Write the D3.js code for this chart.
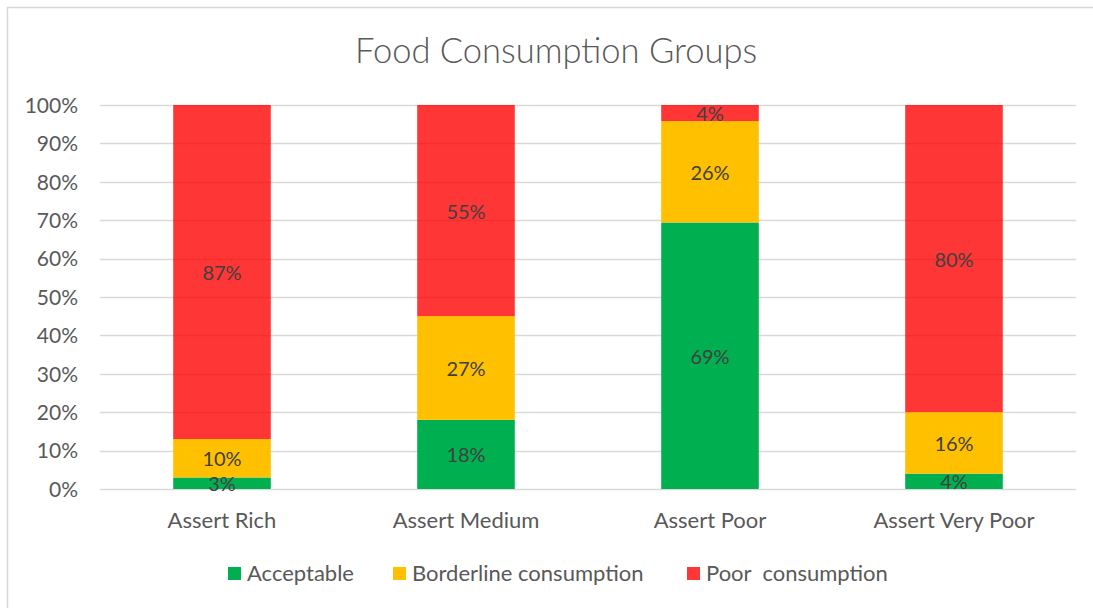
<!DOCTYPE html>
<html>
<head>
<meta charset="utf-8">
<script src="https://cdn.jsdelivr.net/npm/d3@7"></script>
<style>
  html, body { margin: 0; padding: 0; background: #fff; }
  svg text { font-family: Lato, "Open Sans", sans-serif; }
</style>
</head>
<body>
<svg id="chart" width="1093" height="608"></svg>
<script>
const categories = ["Assert Rich", "Assert Medium", "Assert Poor", "Assert Very Poor"];
const seriesNames = ["Acceptable", "Borderline consumption", "Poor  consumption"];
const acceptable = [3, 18, 69.4, 4];
const borderline = [10, 27, 26.4, 16];
const poor = [87, 55, 4.2, 80];
const tickValues = [0, 10, 20, 30, 40, 50, 60, 70, 80, 90, 100];
const colors = ["#00b050", "#ffc000", "#ff0000"];
const opacities = [1, 1, 0.79];

const svg = d3.select("#chart");
const W = 1093, H = 608;
const margin = {left: 100, right: 17, top: 105, bottom: 119};

// chart border
svg.append("rect").attr("x", 7.5).attr("y", 7.5).attr("width", 1200).attr("height", 800)
  .attr("fill", "#fff").attr("stroke", "#d9d9d9").attr("stroke-width", 1.5);

const x = d3.scaleBand().domain(categories)
  .range([margin.left, W - margin.right])
  .paddingInner(0.6).paddingOuter(0.3);
const y = d3.scaleLinear().domain([0, 100]).range([H - margin.bottom, margin.top]);

// gridlines
svg.append("g").selectAll("line").data(tickValues).join("line")
  .attr("x1", margin.left).attr("x2", W - margin.right)
  .attr("y1", d => Math.round(y(d)) + 0.5).attr("y2", d => Math.round(y(d)) + 0.5)
  .attr("stroke", "#d9d9d9").attr("stroke-width", 1.5);

// y axis labels
const yAxis = d3.axisLeft(y).tickValues(tickValues).tickFormat(d => d + "%").tickSize(0).tickPadding(0);
const yg = svg.append("g").attr("transform", `translate(${margin.left - 22},0)`).call(yAxis);
yg.select(".domain").remove();
yg.selectAll("text").attr("fill", "#595959").style("font-size", "21px").attr("dy", "0.35em");

// stacked data
const rows = categories.map((c, i) => ({cat: c, s0: acceptable[i], s1: borderline[i], s2: poor[i]}));
const stack = d3.stack().keys(["s0", "s1", "s2"])(rows);

const layers = svg.append("g").selectAll("g").data(stack).join("g")
  .attr("fill", (d, i) => colors[i]).attr("fill-opacity", (d, i) => opacities[i]);
layers.selectAll("rect").data(d => d).join("rect")
  .attr("x", d => x(d.data.cat))
  .attr("width", x.bandwidth())
  .attr("y", d => y(d[1]))
  .attr("height", d => y(d[0]) - y(d[1]));

// data labels
const labelG = svg.append("g");
stack.forEach(layer => {
  layer.forEach(d => {
    labelG.append("text")
      .attr("x", x(d.data.cat) + x.bandwidth() / 2)
      .attr("y", (y(d[0]) + y(d[1])) / 2 + 1)
      .attr("dy", "0.35em")
      .attr("text-anchor", "middle")
      .attr("fill", "#404040")
      .style("font-size", "20px")
      .text(Math.round(d[1] - d[0]) + "%");
  });
});

// x axis labels
const xAxis = d3.axisBottom(x).tickSize(0).tickPadding(0);
const xg = svg.append("g").attr("transform", `translate(0,${H - margin.bottom + 31})`).call(xAxis);
xg.select(".domain").remove();
xg.selectAll("text").attr("fill", "#595959").style("font-size", "22px").attr("dy", "0.35em");

// title
svg.append("text").attr("x", 556).attr("y", 63).attr("text-anchor", "middle")
  .attr("fill", "#595959").style("font-size", "34.5px").style("font-weight", 300)
  .text("Food Consumption Groups");

// legend
const legendX = [228, 393, 687];
const lg = svg.append("g").selectAll("g").data(seriesNames).join("g")
  .attr("transform", (d, i) => `translate(${legendX[i]},567)`);
lg.append("rect").attr("width", 13).attr("height", 13)
  .attr("fill", (d, i) => colors[i]).attr("fill-opacity", (d, i) => opacities[i]);
lg.append("text").attr("x", 19).attr("y", 6.5).attr("dy", "0.35em")
  .attr("fill", "#595959").style("font-size", "22px").style("white-space", "pre")
  .text(d => d);
</script>
</body>
</html>
